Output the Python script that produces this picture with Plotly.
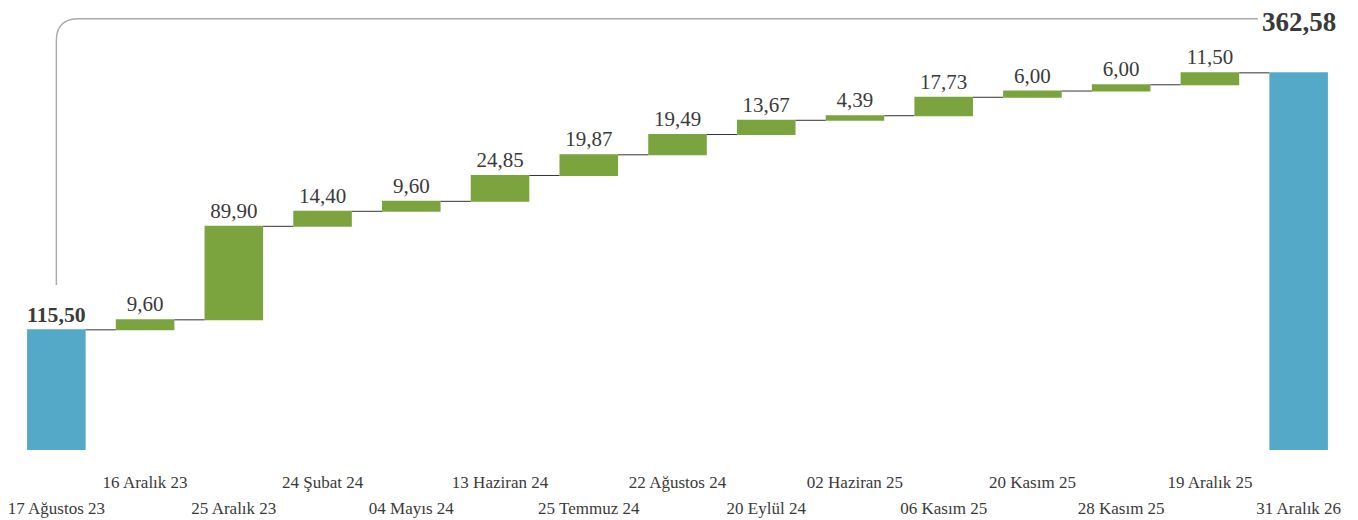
import plotly.graph_objects as go

categories = ["17 Ağustos 23", "16 Aralık 23", "25 Aralık 23", "24 Şubat 24", "04 Mayıs 24",
              "13 Haziran 24", "25 Temmuz 24", "22 Ağustos 24", "20 Eylül 24", "02 Haziran 25",
              "06 Kasım 25", "20 Kasım 25", "28 Kasım 25", "19 Aralık 25", "31 Aralık 26"]
values = [115.50, 9.60, 89.90, 14.40, 9.60, 24.85, 19.87, 19.49, 13.67, 4.39, 17.73, 6.00, 6.00, 11.50, 362.58]
measures = ["absolute"] + ["relative"] * 13 + ["absolute"]

BLUE = "#55A9C8"
GREEN = "#7BA43F"
FONT = "Liberation Serif"
TXT = "#3a3a3a"

def fmt(v):
    return f"{v:.2f}".replace(".", ",")

xs = list(range(len(categories)))
texts = []
sizes = []
for i, v in enumerate(values):
    if i == 0:
        texts.append("<b>" + fmt(v) + "</b>")
        sizes.append(28)
    elif i == len(values) - 1:
        texts.append("")
        sizes.append(20)
    else:
        texts.append(fmt(v))
        sizes.append(21)

upper_vals = [x for x in xs if x % 2 == 1]
upper_text = [categories[x] for x in upper_vals]
lower_vals = [x for x in xs if x % 2 == 0]
lower_text = [categories[x] for x in lower_vals]

fig = go.Figure(go.Waterfall(
    x=xs, y=values, measure=measures,
    text=texts, textposition="outside",
    textfont=dict(family=FONT, size=sizes, color=TXT),
    width=0.66,
    increasing=dict(marker=dict(color=GREEN)),
    decreasing=dict(marker=dict(color=GREEN)),
    totals=dict(marker=dict(color=BLUE)),
    connector=dict(line=dict(color="#333333", width=1)),
    cliponaxis=False,
    hoverinfo="skip",
))
# invisible carrier trace so the second (lower-row) label axis is drawn
fig.add_trace(go.Scatter(x=lower_vals, y=[0] * len(lower_vals), xaxis="x2", yaxis="y",
                         mode="markers", marker=dict(opacity=0), hoverinfo="skip"))

top = 414.4
fig.add_shape(type="path",
              path=f"M 0,158.7 L 0,{top-21} Q 0,{top} 0.25,{top} L 13.54,{top}",
              xref="x", yref="y", line=dict(color="#aaaaaa", width=1.5))

fig.add_annotation(x=xs[-1], y=top, text="<b>" + fmt(values[-1]) + "</b>",
                   showarrow=False, xanchor="center", yanchor="middle", yshift=-3,
                   font=dict(family=FONT, size=27, color=TXT))

fig.update_layout(
    width=1350, height=512,
    margin=dict(l=4, r=15, t=5, b=70),
    plot_bgcolor="white", paper_bgcolor="white",
    showlegend=False,
    font=dict(family=FONT, size=17, color=TXT),
    xaxis=dict(range=[-0.5, 14.5], tickvals=upper_vals, ticktext=upper_text,
               tickangle=0, automargin=False, ticklabeloverflow="allow",
               showgrid=False, zeroline=False, showline=False,
               ticks="outside", ticklen=17, tickcolor="rgba(0,0,0,0)",
               tickfont=dict(family=FONT, size=17, color=TXT)),
    xaxis2=dict(range=[-0.5, 14.5], tickvals=lower_vals, ticktext=lower_text,
                overlaying="x", side="bottom", anchor="y",
                tickangle=0, automargin=False, ticklabeloverflow="allow",
                showgrid=False, zeroline=False, showline=False,
                ticks="outside", ticklen=43, tickcolor="rgba(0,0,0,0)",
                tickfont=dict(family=FONT, size=17, color=TXT)),
    yaxis=dict(range=[0, 420], visible=False, showgrid=False, zeroline=False, automargin=False),
)

fig.write_html("out.html")
